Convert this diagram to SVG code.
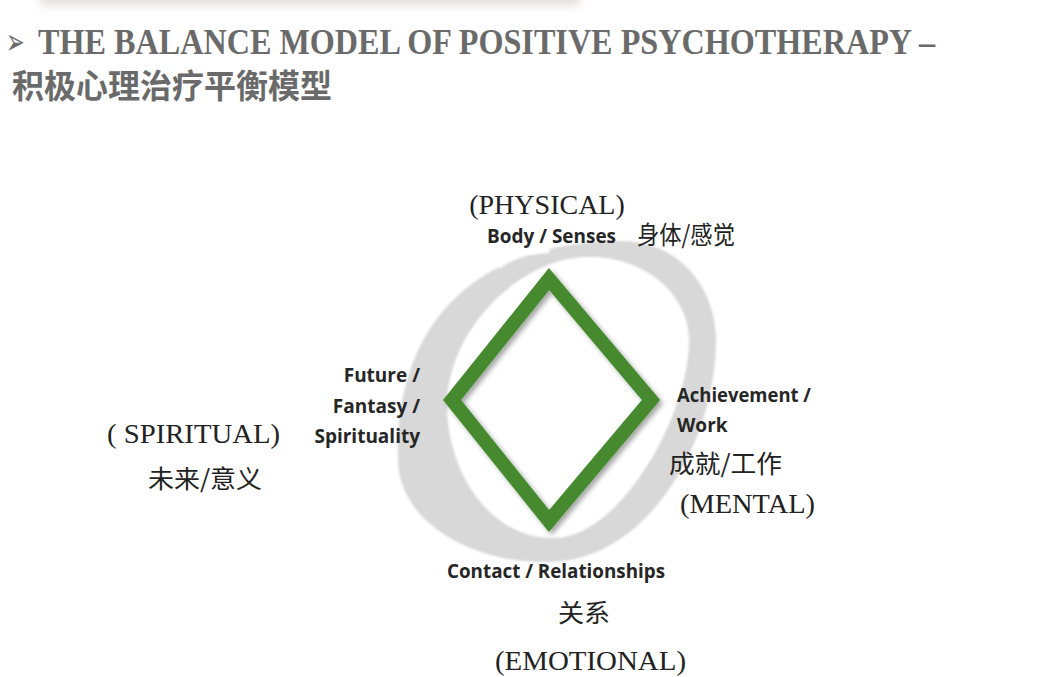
<svg xmlns="http://www.w3.org/2000/svg" width="1046" height="677" viewBox="0 0 1046 677">
<defs>
<filter id="blur" x="-10%" y="-200%" width="120%" height="500%"><feGaussianBlur stdDeviation="4"/></filter>
<filter id="soft" x="-10%" y="-10%" width="120%" height="120%"><feGaussianBlur stdDeviation="1.2"/></filter>
<filter id="shadow" x="-20%" y="-20%" width="140%" height="140%"><feDropShadow dx="3" dy="3" stdDeviation="2.5" flood-color="#000" flood-opacity="0.35"/></filter>
<style>
.title{font-family:"Liberation Serif",serif;font-weight:bold;fill:#6a6a6a}
.cjkt{font-family:"Noto Sans CJK SC",sans-serif;font-weight:bold;fill:#6a6a6a}
.en{font-family:"Open Sans","Noto Sans",sans-serif;font-weight:bold;font-size:19px;fill:#262626}
.cat{font-family:"Liberation Serif",serif;font-size:28px;fill:#222}
.cn{font-family:"Noto Sans CJK SC",sans-serif;font-size:25px;fill:#222}
</style>
</defs>
<rect width="1046" height="677" fill="#fff"/>
<rect x="40" y="-10" width="540" height="16" fill="#e6e3de" filter="url(#blur)"/>
<g id="title">
<text transform="translate(6 54) scale(0.62 1)" font-family="DejaVu Sans,sans-serif" font-size="36" fill="#6a6a6a">➢</text>
<text class="title" x="38" y="54" font-size="36" textLength="897" lengthAdjust="spacingAndGlyphs">THE BALANCE MODEL OF POSITIVE PSYCHOTHERAPY –</text>
<text class="cjkt" x="12" y="98" font-size="33" textLength="320" lengthAdjust="spacingAndGlyphs">积极心理治疗平衡模型</text>
</g>
<g id="ring" filter="url(#soft)">
<path fill="#d8d8d8" fill-rule="evenodd" d="M615 241 C680 238 718 290 716 345 C714 440 650 560 550 562 C470 564 395 520 398 455 C396 350 450 245 615 241 Z M585 257 C650 255 692 300 689 345 C686 420 620 536 555 538 C495 540 450 480 447 410 C445 330 520 259 585 257 Z"/>
<path d="M500 266 Q515 253 548 251" fill="none" stroke="#fff" stroke-width="4" stroke-linecap="round"/>
</g>
<g id="connectors"/>
<g id="diamond">
<polygon points="549,279 651,400 549,521 452,400" fill="none" stroke="#46892f" stroke-width="14" stroke-linejoin="miter" filter="url(#shadow)"/>
</g>
<g id="physical">
<text class="cat" x="547" y="214" text-anchor="middle">(PHYSICAL)</text>
<text class="en" x="487" y="243" textLength="129" lengthAdjust="spacingAndGlyphs">Body / Senses</text>
<text class="cn" x="637" y="244" textLength="98" lengthAdjust="spacingAndGlyphs">身体/感觉</text>
</g>
<g id="spiritual">
<text class="en" x="420" y="382" text-anchor="end">Future /</text>
<text class="en" x="420" y="413" text-anchor="end">Fantasy /</text>
<text class="en" x="420" y="443" text-anchor="end">Spirituality</text>
<text class="cat" x="107" y="443" textLength="173" lengthAdjust="spacingAndGlyphs">( SPIRITUAL)</text>
<text class="cn" x="148" y="488" textLength="114" lengthAdjust="spacingAndGlyphs">未来/意义</text>
</g>
<g id="mental">
<text class="en" x="677" y="402" textLength="134" lengthAdjust="spacingAndGlyphs">Achievement /</text>
<text class="en" x="677" y="432">Work</text>
<text class="cn" x="669" y="473" textLength="113" lengthAdjust="spacingAndGlyphs">成就/工作</text>
<text class="cat" x="680" y="513" textLength="135" lengthAdjust="spacingAndGlyphs">(MENTAL)</text>
</g>
<g id="emotional">
<text class="en" x="447" y="578" textLength="218" lengthAdjust="spacingAndGlyphs">Contact / Relationships</text>
<text class="cn" x="558" y="622" textLength="52" lengthAdjust="spacingAndGlyphs">关系</text>
<text class="cat" x="495" y="670" textLength="191" lengthAdjust="spacingAndGlyphs">(EMOTIONAL)</text>
</g>
</svg>
